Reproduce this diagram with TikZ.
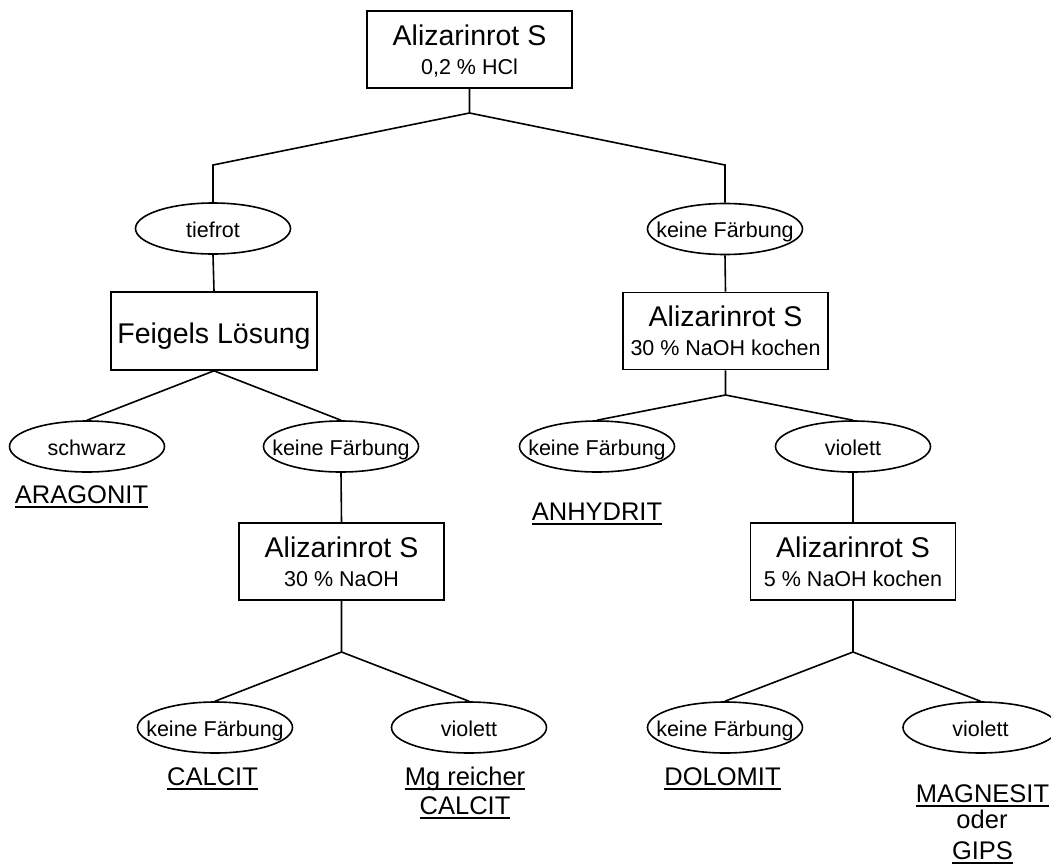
\documentclass[tikz,border=0pt]{standalone}
\usepackage{fontspec}
\setmainfont{Liberation Sans}
\usetikzlibrary{shapes.geometric}
\newcommand{\myul}[1]{\setbox0=\hbox{#1}\rlap{\rule[-4.6pt]{\wd0}{1.5pt}}\box0}
\newcommand{\et}[1]{\makebox[0pt]{#1}}
\begin{document}
\begin{tikzpicture}[x=1pt,y=-1pt, line width=1.6pt,
 box/.style={draw, rectangle, minimum width=205pt, minimum height=77pt, inner sep=0pt},
 ell/.style={draw, ellipse, minimum width=155pt, minimum height=51pt, inner sep=0pt, text height=17pt, text depth=0pt, font=\fontsize{21.5}{24}\selectfont},
 big/.style={font=\fontsize{28.5}{32}\selectfont, inner sep=0pt, anchor=base},
 small/.style={font=\fontsize{21.5}{24}\selectfont, inner sep=0pt, anchor=base},
 res/.style={font=\fontsize{25.5}{28}\selectfont, inner sep=0pt, anchor=base}]
\useasboundingbox (0,0) rectangle (1051,865);

% top
\node[box] (b0) at (469.5,49.5) {};
\node[big] (b0a) at ([yshift=-35pt]b0.north) {Alizarinrot S};
\node[small] (b0b) at ([yshift=-64pt]b0.north) {0,2 \% HCl};
\coordinate (j0) at (469.5,113);
\coordinate (j1) at (213,165);
\coordinate (j3) at (725,165);

% left branch
\node[ell] (e1) at (213,228.5) {\et{tiefrot}};
\node[box, minimum width=206pt, minimum height=78pt] (b1) at (214,331) {};
\node[big] (b1a) at ([yshift=-52pt]b1.north) {Feigels Lösung};
\node[ell] (e2) at (87,446.5) {\et{schwarz}};
\node[ell] (e3) at (341,446.5) {\et{keine Färbung}};
\node[res] (r1) at (81.5,503) {\myul{ARAGONIT}};
\node[box] (b2) at (341.5,561.5) {};
\node[big] (b2a) at ([yshift=-35pt]b2.north) {Alizarinrot S};
\node[small] (b2b) at ([yshift=-64pt]b2.north) {30 \% NaOH};
\coordinate (j2) at (341.5,652);
\node[ell] (e4) at (215,727.5) {\et{keine Färbung}};
\node[ell] (e5) at (469,727.5) {\et{violett}};
\node[res] (r2) at (212.5,785) {\myul{CALCIT}};
\node[res] (r3) at (465,785) {\myul{Mg reicher}};
\node[res] (r4) at (465,814) {\myul{CALCIT}};

% right branch
\node[ell] (e6) at (725,229) {\et{keine Färbung}};
\node[box] (b3) at (725.5,331) {};
\node[big] (b3a) at ([yshift=-35pt]b3.north) {Alizarinrot S};
\node[small] (b3b) at ([yshift=-64pt]b3.north) {30 \% NaOH kochen};
\coordinate (j4) at (725.5,395);
\node[ell] (e7) at (597,446.5) {\et{keine Färbung}};
\node[ell] (e8) at (853,446.5) {\et{violett}};
\node[res] (r5) at (597,520) {\myul{ANHYDRIT}};
\node[box] (b4) at (853,561.5) {};
\node[big] (b4a) at ([yshift=-35pt]b4.north) {Alizarinrot S};
\node[small] (b4b) at ([yshift=-64pt]b4.north) {5 \% NaOH kochen};
\coordinate (j5) at (853,652);
\node[ell] (e9) at (725,727.5) {\et{keine Färbung}};
\node[ell] (e10) at (980.5,727.5) {\et{violett}};
\node[res] (r6) at (722.5,785) {\myul{DOLOMIT}};
\node[res] (r7) at (982.5,802) {\myul{MAGNESIT}};
\node[res] (r8) at (982,828) {oder};
\node[res] (r9) at (982.5,859) {\myul{GIPS}};

% connectors
\draw (b0.south) -- (j0) -- (j1) -- (e1.north);
\draw (j0) -- (j3) -- (e6.north);
\draw (e1.south) -- (b1.north);
\draw (b1.south) -- (e2.north);
\draw (b1.south) -- (e3.north);
\draw (e3.south) -- (b2.north);
\draw (b2.south) -- (j2) -- (e4.north);
\draw (j2) -- (e5.north);
\draw (e6.south) -- (b3.north);
\draw (b3.south) -- (j4) -- (e7.north);
\draw (j4) -- (e8.north);
\draw (e8.south) -- (b4.north);
\draw (b4.south) -- (j5) -- (e9.north);
\draw (j5) -- (e10.north);
\end{tikzpicture}
\end{document}
